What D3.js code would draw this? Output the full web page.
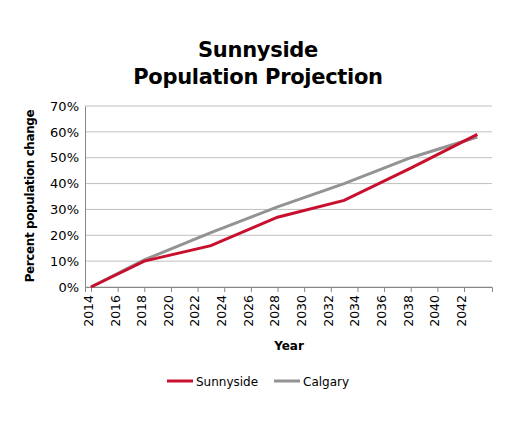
<!DOCTYPE html>
<html><head><meta charset="utf-8">
<script src="https://cdn.jsdelivr.net/npm/d3@7"></script>
<style>body{margin:0;background:#fff;font-family:"DejaVu Sans",sans-serif;}</style>
</head><body><svg id="c" width="509" height="425"></svg>
<script>
const years = [2014, 2018, 2023, 2028, 2033, 2038, 2043];
const sunnyside = [0, 10, 16, 27, 33.5, 46, 59];
const calgary = [0, 10.5, 21, 31, 40, 50, 58];
const xTicks = d3.range(2014, 2043, 2);
const yTicks = [0, 10, 20, 30, 40, 50, 60, 70];

const svg = d3.select("#c");
const x = d3.scaleLinear().domain([2013.55, 2044.1]).range([85, 492]);
const y = d3.scaleLinear().domain([0, 70]).range([287, 106]);

// gridlines
svg.append("g").selectAll("line").data(yTicks).enter().append("line")
  .attr("x1", 85).attr("x2", 492)
  .attr("y1", d => y(d)).attr("y2", d => y(d))
  .attr("stroke", "#bfbfbf").attr("stroke-width", 1);

const yAxis = svg.append("g").attr("transform", "translate(85,0)")
  .call(d3.axisLeft(y).tickValues(yTicks).tickFormat(d => d + "%").tickSize(0).tickPadding(6));
yAxis.select(".domain").attr("stroke", "#888");
yAxis.selectAll("text").attr("font-size", 13).attr("font-family", "DejaVu Sans").attr("fill", "#000");

const xAxis = svg.append("g").attr("transform", "translate(0,287)")
  .call(d3.axisBottom(x).tickValues(xTicks).tickFormat(d3.format("d")).tickSize(5));
xAxis.select(".domain").attr("stroke", "#888");
xAxis.selectAll("line").attr("stroke", "#888");
xAxis.selectAll("text").attr("font-size", 12.5).attr("font-family", "DejaVu Sans").attr("fill", "#000")
  .attr("transform", "rotate(-90)").attr("text-anchor", "end").attr("x", -8).attr("y", -3).attr("dy", "0.35em");

const line = d3.line().x(d => x(d[0])).y(d => y(d[1]));
svg.append("path").datum(years.map((yr, i) => [yr, calgary[i]]))
  .attr("d", line).attr("fill", "none").attr("stroke", "#939393").attr("stroke-width", 3);
svg.append("path").datum(years.map((yr, i) => [yr, sunnyside[i]]))
  .attr("d", line).attr("fill", "none").attr("stroke", "#c8102e").attr("stroke-width", 3);

svg.append("text").attr("x", 258).attr("y", 57).attr("text-anchor", "middle")
  .attr("font-size", 21).attr("font-weight", "bold").attr("letter-spacing", -0.3).text("Sunnyside");
svg.append("text").attr("x", 258).attr("y", 84).attr("text-anchor", "middle")
  .attr("font-size", 21).attr("font-weight", "bold").attr("letter-spacing", -0.3).text("Population Projection");

svg.append("text").attr("transform", "translate(34,196) rotate(-90)").attr("text-anchor", "middle")
  .attr("font-size", 12).attr("font-weight", "bold").attr("letter-spacing", -0.4).text("Percent population change");
svg.append("text").attr("x", 289).attr("y", 350).attr("text-anchor", "middle")
  .attr("font-size", 12).attr("font-weight", "bold").text("Year");

const legend = [["Sunnyside", "#c8102e", 167], ["Calgary", "#939393", 274]];
legend.forEach(([name, col, lx]) => {
  svg.append("line").attr("x1", lx).attr("x2", lx + 26).attr("y1", 381).attr("y2", 381)
    .attr("stroke", col).attr("stroke-width", 3);
  svg.append("text").attr("x", lx + 29).attr("y", 386).attr("font-size", 12).text(name);
});
</script></body></html>
